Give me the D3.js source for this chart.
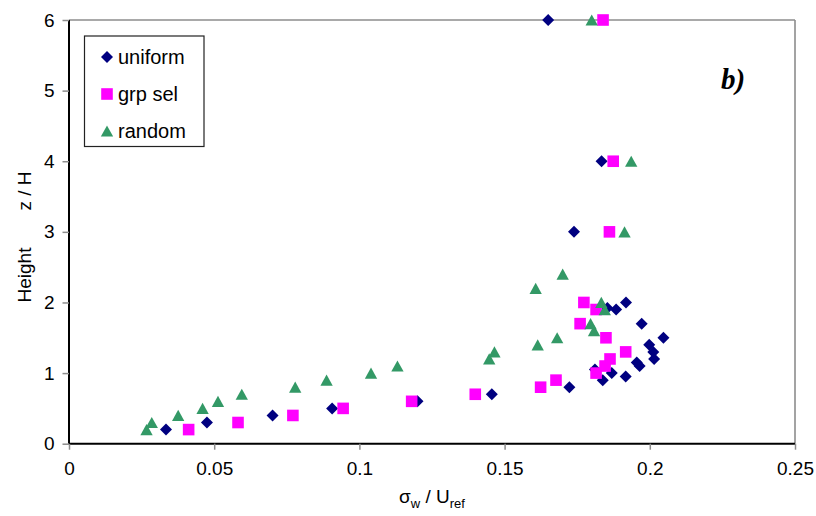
<!DOCTYPE html>
<html>
<head>
<meta charset="utf-8">
<script src="https://cdn.jsdelivr.net/npm/d3@7"></script>
<style>
  html, body { margin: 0; padding: 0; background: #fff; }
  svg { display: block; font-family: "Liberation Sans", Arial, sans-serif; }
</style>
</head>
<body>
<svg id="chart" width="816" height="516"></svg>
<script>
// Vertical profiles of sigma_w / U_ref against height z/H
const xTicks = [0, 0.05, 0.1, 0.15, 0.2, 0.25];
const xTickLabels = ["0", "0.05", "0.1", "0.15", "0.2", "0.25"];
const yTicks = [0, 1, 2, 3, 4, 5, 6];
const yTickLabels = ["0", "1", "2", "3", "4", "5", "6"];

const seriesNames = ["uniform", "grp sel", "random"];

const uniformSigma  = [0.0334, 0.0475, 0.0701, 0.0906, 0.120, 0.1456, 0.1723, 0.1838, 0.1917, 0.1869, 0.1811, 0.1965, 0.1955, 0.2015, 0.2012, 0.1998, 0.2047, 0.1972, 0.1884, 0.1854, 0.1918, 0.1739, 0.1834, 0.165];
const uniformHeight = [0.2, 0.3, 0.4, 0.5, 0.6, 0.7, 0.8, 0.9, 0.95, 1.0, 1.05, 1.1, 1.15, 1.2, 1.3, 1.4, 1.5, 1.7, 1.9, 1.92, 2.0, 3, 4, 6];

const grpSigma  = [0.0412, 0.0582, 0.0771, 0.0944, 0.118, 0.1399, 0.1624, 0.1677, 0.1815, 0.1846, 0.1863, 0.1917, 0.1849, 0.176, 0.1815, 0.1773, 0.1861, 0.1874, 0.1839];
const grpHeight = [0.2, 0.3, 0.4, 0.5, 0.6, 0.7, 0.8, 0.9, 1.0, 1.1, 1.2, 1.3, 1.5, 1.7, 1.9, 2.0, 3, 4, 6];

const randomSigma  = [0.0267, 0.0285, 0.0376, 0.046, 0.0513, 0.0595, 0.0779, 0.0887, 0.104, 0.1131, 0.1447, 0.1465, 0.1614, 0.1681, 0.1808, 0.1796, 0.1845, 0.1833, 0.1607, 0.170, 0.1913, 0.1936, 0.180];
const randomHeight = [0.2, 0.3, 0.4, 0.5, 0.6, 0.7, 0.8, 0.9, 1.0, 1.1, 1.2, 1.3, 1.4, 1.5, 1.6, 1.7, 1.9, 2.0, 2.2, 2.4, 3, 4, 6];

const colors = ["#000080", "#ff00ff", "#339966"];

const svg = d3.select("#chart");
const W = 816, H = 516;
const margin = { left: 69, right: 21, top: 20, bottom: 72.3 };
const x = d3.scaleLinear().domain([0, 0.25]).range([margin.left, W - margin.right]);
const y = d3.scaleLinear().domain([0, 6]).range([H - margin.bottom, margin.top]);

// plot frame: grey top/right border
svg.append("line").attr("x1", x(0)).attr("x2", x(0.25)).attr("y1", y(6)).attr("y2", y(6))
  .attr("stroke", "#8c8c8c").attr("stroke-width", 1.6);
svg.append("line").attr("x1", x(0.25)).attr("x2", x(0.25)).attr("y1", y(6)).attr("y2", y(0))
  .attr("stroke", "#8c8c8c").attr("stroke-width", 1.6);

// axes
const xAxis = d3.axisBottom(x).tickValues(xTicks).tickFormat((d, i) => xTickLabels[i]).tickSize(6).tickPadding(12);
const yAxis = d3.axisLeft(y).tickValues(yTicks).tickFormat((d, i) => yTickLabels[i]).tickSize(6.5).tickPadding(8);

const gx = svg.append("g").attr("transform", `translate(0,${y(0)})`).call(xAxis);
const gy = svg.append("g").attr("transform", `translate(${x(0)},0)`).call(yAxis);
[gx, gy].forEach(g => {
  g.select(".domain").attr("stroke", "#000").attr("stroke-width", 2);
  g.selectAll(".tick line").attr("stroke", "#8c8c8c").attr("stroke-width", 1.5);
  g.selectAll(".tick text").attr("fill", "#000").style("font-size", "19px")
    .style("font-family", "'Liberation Sans', Arial, sans-serif");
});
gx.select(".domain").attr("d", `M${x(0)},0H${x(0.25)}`);
gy.select(".domain").attr("d", `M0,${y(0)}V${y(6)}`);

// marker shapes
const diamond = s => `M0,${-s}L${s},0L0,${s}L${-s},0Z`;
const square = s => `M${-s},${-s}H${s}V${s}H${-s}Z`;
const triangle = s => `M0,${-s}L${s * 1.1},${s}L${-s * 1.1},${s}Z`;
const shapes = [diamond(6), square(5.8), triangle(5.6)];

const series = [
  { sigma: uniformSigma, height: uniformHeight },
  { sigma: grpSigma, height: grpHeight },
  { sigma: randomSigma, height: randomHeight }
];

series.forEach((s, k) => {
  svg.append("g").selectAll("path")
    .data(s.sigma.map((v, i) => [v, s.height[i]]))
    .join("path")
    .attr("d", shapes[k])
    .attr("transform", d => `translate(${x(d[0])},${y(d[1])})`)
    .attr("fill", colors[k]);
});

// legend
const lg = svg.append("g");
lg.append("rect").attr("x", 84.5).attr("y", 36).attr("width", 119.5).attr("height", 110.5)
  .attr("fill", "#fff").attr("stroke", "#222").attr("stroke-width", 1.2);
seriesNames.forEach((name, k) => {
  const cy = 57 + k * 37;
  lg.append("path").attr("d", shapes[k]).attr("transform", `translate(107,${cy})`).attr("fill", colors[k]);
  lg.append("text").attr("x", 118).attr("y", cy + 7).style("font-size", "20px").text(name);
});

// panel label
svg.append("text").attr("x", 721).attr("y", 89)
  .style("font-family", "'Liberation Serif', 'Times New Roman', serif")
  .style("font-weight", "bold").style("font-style", "italic").style("font-size", "29px")
  .text("b)");

// axis titles
const xt = svg.append("text").attr("x", x(0.125)).attr("y", 503).attr("text-anchor", "middle").style("font-size", "19px");
xt.append("tspan").text("σ");
xt.append("tspan").attr("dy", 5).style("font-size", "13px").text("w");
xt.append("tspan").attr("dy", -5).text(" / U");
xt.append("tspan").attr("dy", 5).style("font-size", "13px").text("ref");

svg.append("text")
  .attr("transform", `translate(31,${237}) rotate(-90)`)
  .attr("text-anchor", "middle").style("font-size", "19px")
  .style("white-space", "pre")
  .text("Height       z / H");
</script>
</body>
</html>
